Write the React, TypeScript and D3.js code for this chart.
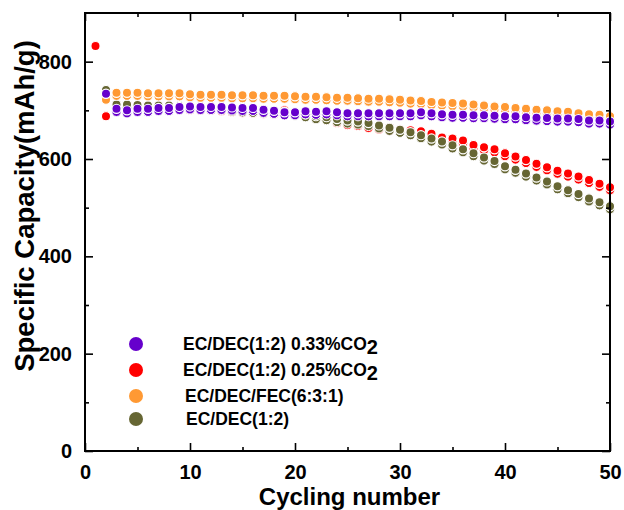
import React, { useEffect, useRef } from "react";
import * as d3 from "d3";

// cycle numbers
const cycles = [2, 3, 4, 5, 6, 7, 8, 9, 10, 11, 12, 13, 14, 15, 16, 17, 18, 19, 20, 21, 22, 23, 24, 25, 26,
  27, 28, 29, 30, 31, 32, 33, 34, 35, 36, 37, 38, 39, 40, 41, 42, 43, 44, 45, 46, 47, 48, 49, 50];
const redCycles = [1, ...cycles];

// specific capacity, mAh/g
const purpleCap = [734, 703, 700, 703, 703, 705, 705, 707, 708, 707, 707, 707, 706, 705, 705, 701, 699, 696,
  696, 698, 697, 698, 696, 694, 694, 694, 694, 694, 694, 694, 696, 694, 692, 691, 691, 690, 690, 689, 688,
  688, 686, 685, 684, 683, 683, 682, 679, 679, 677];
const redCap = [832, 688, 710, 710, 709, 708, 708, 708, 707, 707, 706, 706, 705, 703, 701, 700, 699, 698,
  700, 697, 694, 690, 686, 680, 676, 674, 670, 667, 664, 661, 659, 657, 652, 644, 642, 638, 629, 624, 620,
  612, 605, 598, 590, 583, 576, 570, 564, 557, 549, 542];
const orangeCap = [722, 736, 736, 736, 735, 735, 735, 735, 733, 732, 732, 732, 731, 731, 731, 730, 730, 730,
  729, 728, 728, 727, 726, 726, 725, 724, 724, 723, 722, 720, 719, 717, 716, 715, 714, 712, 710, 708, 707,
  705, 703, 701, 700, 698, 697, 694, 692, 691, 688];
const oliveCap = [742, 712, 712, 711, 710, 710, 710, 709, 709, 708, 708, 707, 704, 702, 701, 700, 699, 697,
  695, 692, 688, 686, 682, 679, 677, 674, 669, 664, 660, 655, 649, 642, 636, 628, 620, 612, 603, 596, 585,
  578, 570, 562, 554, 544, 536, 528, 519, 511, 503];

const legendNames = ["EC/DEC(1:2) 0.33%CO", "EC/DEC(1:2) 0.25%CO", "EC/DEC/FEC(6:3:1)", "EC/DEC(1:2)"];
const legendSub = ["2", "2", "", ""];
const colors = ["#6600cc", "#ff0000", "#ff9933", "#666633"];

const xTicks = [0, 10, 20, 30, 40, 50];
const xMinor = [5, 15, 25, 35, 45];
const yTicks = [0, 200, 400, 600, 800];
const yMinor = [100, 300, 500, 700];

const FONT = "'Liberation Sans', Arial, Helvetica, sans-serif";

export default function App() {
  const ref = useRef<SVGSVGElement>(null);

  useEffect(() => {
    const svg = d3.select(ref.current);
    svg.selectAll("*").remove();

    const left = 85, right = 610, top = 13, bottom = 451;
    const x = d3.scaleLinear().domain([0, 50]).range([left, right]);
    const y = d3.scaleLinear().domain([0, 900]).range([bottom, top]);

    const series = [
      { color: colors[1], xs: redCycles, ys: redCap },
      { color: colors[3], xs: cycles, ys: oliveCap },
      { color: colors[2], xs: cycles, ys: orangeCap },
      { color: colors[0], xs: cycles, ys: purpleCap },
    ];

    // points (double marker: lower copy then upper with white edge)
    series.forEach(s => {
      const pts = s.xs.map((c, i) => [c, s.ys[i]]);
      const g = svg.append("g");
      g.selectAll("circle.lo")
        .data(pts.filter(d => d[0] > 2))
        .join("circle")
        .attr("class", "lo")
        .attr("cx", d => x(d[0]))
        .attr("cy", d => y(d[1]) + 3)
        .attr("r", 4.6)
        .attr("fill", s.color)
        .attr("stroke", "white")
        .attr("stroke-width", 1);
      g.selectAll("circle.hi")
        .data(pts)
        .join("circle")
        .attr("class", "hi")
        .attr("cx", d => x(d[0]))
        .attr("cy", d => y(d[1]))
        .attr("r", 4.6)
        .attr("fill", s.color)
        .attr("stroke", "white")
        .attr("stroke-width", 1.2);
    });

    const styleAxis = (g, labels) => {
      g.select(".domain").remove();
      g.selectAll("line").attr("stroke", "#000").attr("stroke-width", 1.6);
      if (labels) {
        g.selectAll("text")
          .attr("font-family", FONT)
          .attr("font-weight", "bold")
          .attr("font-size", 20)
          .attr("fill", "#000");
      } else {
        g.selectAll("text").remove();
      }
    };

    // bottom
    svg.append("g").attr("transform", `translate(0,${bottom})`)
      .call(d3.axisBottom(x).tickValues(xTicks).tickSize(-8).tickPadding(14).tickFormat(d3.format("d")))
      .call(g => styleAxis(g, true));
    svg.append("g").attr("transform", `translate(0,${bottom})`)
      .call(d3.axisBottom(x).tickValues(xMinor).tickSize(-4))
      .call(g => styleAxis(g, false));
    // top
    svg.append("g").attr("transform", `translate(0,${top})`)
      .call(d3.axisTop(x).tickValues(xTicks).tickSize(-8))
      .call(g => styleAxis(g, false));
    svg.append("g").attr("transform", `translate(0,${top})`)
      .call(d3.axisTop(x).tickValues(xMinor).tickSize(-4))
      .call(g => styleAxis(g, false));
    // left
    svg.append("g").attr("transform", `translate(${left},0)`)
      .call(d3.axisLeft(y).tickValues(yTicks).tickSize(-8).tickPadding(13).tickFormat(d3.format("d")))
      .call(g => styleAxis(g, true));
    svg.append("g").attr("transform", `translate(${left},0)`)
      .call(d3.axisLeft(y).tickValues(yMinor).tickSize(-4))
      .call(g => styleAxis(g, false));
    // right
    svg.append("g").attr("transform", `translate(${right},0)`)
      .call(d3.axisRight(y).tickValues(yTicks).tickSize(-8))
      .call(g => styleAxis(g, false));
    svg.append("g").attr("transform", `translate(${right},0)`)
      .call(d3.axisRight(y).tickValues(yMinor).tickSize(-4))
      .call(g => styleAxis(g, false));

    // frame
    svg.append("rect")
      .attr("x", left).attr("y", top)
      .attr("width", right - left).attr("height", bottom - top)
      .attr("fill", "none").attr("stroke", "#000").attr("stroke-width", 2);

    // axis titles
    svg.append("text")
      .attr("x", (left + right) / 2 + 2).attr("y", 505)
      .attr("text-anchor", "middle")
      .attr("font-family", FONT).attr("font-weight", "bold").attr("font-size", 24)
      .text("Cycling number");
    svg.append("text")
      .attr("transform", "translate(34,206) rotate(-90)")
      .attr("text-anchor", "middle")
      .attr("font-family", FONT).attr("font-weight", "bold").attr("font-size", 27.5)
      .text("Specific Capacity(mAh/g)");

    // legend
    const legendY = [344, 370, 396, 419];
    const legendTx = [183, 183, 185, 186];
    const lg = svg.append("g");
    legendNames.forEach((name, i) => {
      lg.append("circle")
        .attr("cx", 136).attr("cy", legendY[i]).attr("r", 7)
        .attr("fill", colors[i]);
      const t = lg.append("text")
        .attr("x", legendTx[i]).attr("y", legendY[i] + 6)
        .attr("font-family", FONT).attr("font-weight", "bold").attr("font-size", 17.5)
        .attr("fill", "#000");
      t.append("tspan").text(name);
      if (legendSub[i]) {
        t.append("tspan").attr("font-size", 20).attr("dy", 4).text(legendSub[i]);
      }
    });
  }, []);

  return (
    <svg ref={ref} width={624} height={510}
      style={{ position: "absolute", left: 0, top: 0, background: "#fff" }} />
  );
}
